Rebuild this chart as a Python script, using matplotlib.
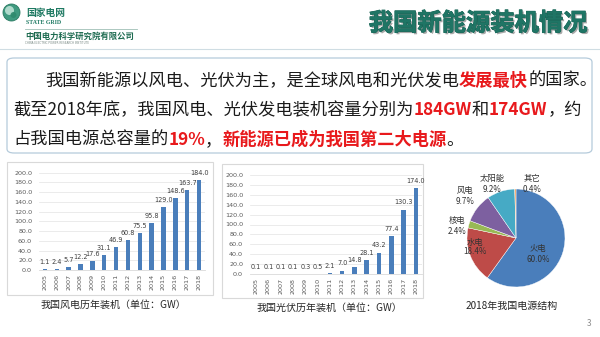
import matplotlib
matplotlib.use("Agg")
import matplotlib.pyplot as plt
from matplotlib.patches import Rectangle, FancyBboxPatch, Ellipse
import matplotlib.patheffects as pe

W, H = 600, 337
CJK = ['Noto Sans CJK SC', 'DejaVu Sans']

# ---------------- data ----------------
years = ['2005', '2006', '2007', '2008', '2009', '2010', '2011',
         '2012', '2013', '2014', '2015', '2016', '2017', '2018']
wind = [1.1, 2.4, 5.7, 12.2, 17.6, 31.1, 46.9, 60.8, 75.5, 95.8, 129.0, 148.6, 163.7, 184.0]
solar = [0.1, 0.1, 0.1, 0.1, 0.3, 0.5, 2.1, 7.0, 14.8, 28.1, 43.2, 77.4, 130.3, 174.0]
y_ticks = [0, 20, 40, 60, 80, 100, 120, 140, 160, 180, 200]
pie_names = ['火电', '水电', '核电', '风电', '太阳能', '其它']
pie_values = [60.0, 18.4, 2.4, 9.7, 9.2, 0.4]
pie_colors = ['#4a7ebb', '#be4b48', '#98b954', '#7d60a0', '#46aac5', '#f79646']

title = '我国新能源装机情况'
caption_wind = '我国风电历年装机（单位：GW）'
caption_solar = '我国光伏历年装机（单位：GW）'
caption_pie = '2018年我国电源结构'

para = [
    [('我国新能源以风电、光伏为主，是全球风电和光伏发电', '#1a1a1a', False),
     ('发展最快', '#e8191c', True), ('的国家。', '#1a1a1a', False)],
    [('截至2018年底，我国风电、光伏发电装机容量分别为', '#1a1a1a', False),
     ('184GW', '#e8191c', True), ('和', '#1a1a1a', False),
     ('174GW', '#e8191c', True), ('，约', '#1a1a1a', False)],
    [('占我国电源总容量的', '#1a1a1a', False), ('19%', '#e8191c', True),
     ('，', '#1a1a1a', False), ('新能源已成为我国第二大电源', '#e8191c', True),
     ('。', '#1a1a1a', False)],
]

fig = plt.figure(figsize=(6, 3.37), dpi=100)
fig.patch.set_facecolor('white')


def fxy(x, y):
    return x / W, 1 - y / H


def add_ax(x0, y0, x1, y1, **kw):
    return fig.add_axes([x0 / W, 1 - y1 / H, (x1 - x0) / W, (y1 - y0) / H], **kw)


def ftext(x, y, s, **kw):
    kw.setdefault('family', CJK)
    return fig.text(x / W, 1 - y / H, s, **kw)


def frect(x0, y0, x1, y1, **kw):
    r = Rectangle((x0 / W, 1 - y1 / H), (x1 - x0) / W, (y1 - y0) / H,
                  transform=fig.transFigure, **kw)
    fig.add_artist(r)
    return r


def fcircle(x, y, rad, **kw):
    e = Ellipse(fxy(x, y), 2 * rad / W, 2 * rad / H, transform=fig.transFigure, **kw)
    fig.add_artist(e)
    return e


# ---------------- header ----------------
fcircle(11.5, 12.5, 8.5, facecolor='#3f9a80', edgecolor='#2a7a62', lw=0.6, zorder=2)
fcircle(9.5, 10.5, 4.5, facecolor='#c4e6da', edgecolor='none', alpha=0.85, zorder=2)
fcircle(13.5, 15.0, 3.0, facecolor='#2f8a6e', edgecolor='none', alpha=0.9, zorder=2)
ftext(26, 13, '国家电网', fontsize=7, fontweight='bold', color='#1f7a63', va='center')
ftext(26, 22, 'STATE GRID', fontsize=4.2, fontweight='bold', color='#1f7a63', va='center',
      family=['Liberation Serif', 'DejaVu Serif'])
fig.add_artist(plt.Line2D([25 / W, 137 / W], [1 - 29 / H, 1 - 29 / H],
                          transform=fig.transFigure, color='#9fbfb5', lw=0.6))
ftext(25, 36.5, '中国电力科学研究院有限公司', fontsize=6, fontweight='bold',
      color='#1d6b50', va='center')
ftext(25, 42.5, 'CHINA ELECTRIC POWER RESEARCH INSTITUTE', fontsize=2, color='#7a8a85',
      va='center', family=['DejaVu Sans'])
fig.add_artist(plt.Line2D([0, 1], [1 - 48.5 / H, 1 - 48.5 / H],
                          transform=fig.transFigure, color='#cfdde3', lw=0.8))

ftext(587, 23.5, title, fontsize=17.5, fontweight='bold', color='#1f7565',
      ha='right', va='center',
      path_effects=[pe.withSimplePatchShadow(offset=(1.2, -1.2), shadow_rgbFace='#555555', alpha=0.5),
                    pe.withStroke(linewidth=0.6, foreground='#176254')])

# ---------------- paragraph box ----------------
box = FancyBboxPatch((7 / W, 1 - 153 / H), (592 - 7) / W, (153 - 58) / H,
                     boxstyle='round,pad=0,rounding_size=0.012',
                     transform=fig.transFigure, facecolor='white',
                     edgecolor='#b5cbdb', lw=0.9, zorder=-5)
fig.add_artist(box)

renderer = fig.canvas.get_renderer()
line_y = [79, 108, 138]
line_x = [45, 13, 13]
for segs, y, x in zip(para, line_y, line_x):
    cx = x
    for s, c, b in segs:
        t = ftext(cx, y, s, fontsize=12.4, color=c, fontweight='bold' if b else 'normal',
                  va='center_baseline', ha='left')
        bb = t.get_window_extent(renderer)
        cx += bb.width

# ---------------- bar charts ----------------


def bar_chart(frame, plot, values, caption, cap_xy):
    frect(*frame, facecolor='none', edgecolor='#d9d9d9', lw=0.8, zorder=-5)
    ax = add_ax(*plot)
    ax.set_facecolor('none')
    x = list(range(len(values)))
    ax.bar(x, values, width=0.38, color='#4a7ebb', zorder=3)
    ax.set_xlim(-0.5, len(values) - 0.5)
    ax.set_ylim(0, 200)
    ax.set_yticks(y_ticks)
    ax.set_yticklabels([f'{v:.1f}' for v in y_ticks], fontsize=4.6, color='#595959')
    ax.set_xticks(x)
    ax.set_xticklabels(years, rotation=90, fontsize=4.6, color='#595959')
    ax.tick_params(axis='both', length=0)
    ax.tick_params(axis='y', pad=5)
    ax.tick_params(axis='x', pad=3)
    ax.grid(axis='y', color='#e3e3e3', lw=0.5, zorder=0)
    ax.set_axisbelow(True)
    for sp in ['top', 'right', 'left']:
        ax.spines[sp].set_visible(False)
    ax.spines['bottom'].set_color('#d9d9d9')
    ax.spines['bottom'].set_linewidth(0.6)
    for xi, v in zip(x, values):
        ax.annotate(f'{v:.1f}', (xi, v), xytext=(0, 3), textcoords='offset points',
                    ha='center', va='bottom', fontsize=4.7, color='#404040',
                    annotation_clip=False)
    ftext(cap_xy[0], cap_xy[1], caption, fontsize=7.2, color='#262626',
          ha='center', va='center')
    return ax


bar_chart((7, 162, 213, 295), (39, 172.7, 205, 270), wind, caption_wind, (113, 305))
bar_chart((222, 164, 423, 298), (250, 175, 422, 274), solar, caption_solar, (329, 308))

# ---------------- pie ----------------
r = 49
pax = add_ax(516 - r, 238 - r, 516 + r, 238 + r)
pax.pie(pie_values, colors=pie_colors, startangle=90, counterclock=False,
        radius=1.0, wedgeprops=dict(linewidth=0.3, edgecolor='white'))
pax.set_xlim(-1, 1)
pax.set_ylim(-1, 1)
pax.set_aspect('equal')
pax.axis('off')

pie_label_pos = {
    '火电': (538, 249, 259),
    '水电': (475, 242, 252),
    '核电': (457, 220, 231),
    '风电': (465, 190, 201),
    '太阳能': (492, 178, 189),
    '其它': (532, 178, 189),
}
for name, v in zip(pie_names, pie_values):
    px, y1, y2 = pie_label_pos[name]
    ftext(px, y1, name, fontsize=6, color='#333333', ha='center', va='center')
    ftext(px, y2, f'{v:.1f}%', fontsize=5.8, color='#333333', ha='center', va='center')

ftext(512, 306, caption_pie, fontsize=7.2, color='#262626', ha='center', va='center')

ftext(589, 323, '3', fontsize=6, color='#8c8c8c', ha='center', va='center')

fig.savefig('out.png', dpi=100, facecolor='white')
